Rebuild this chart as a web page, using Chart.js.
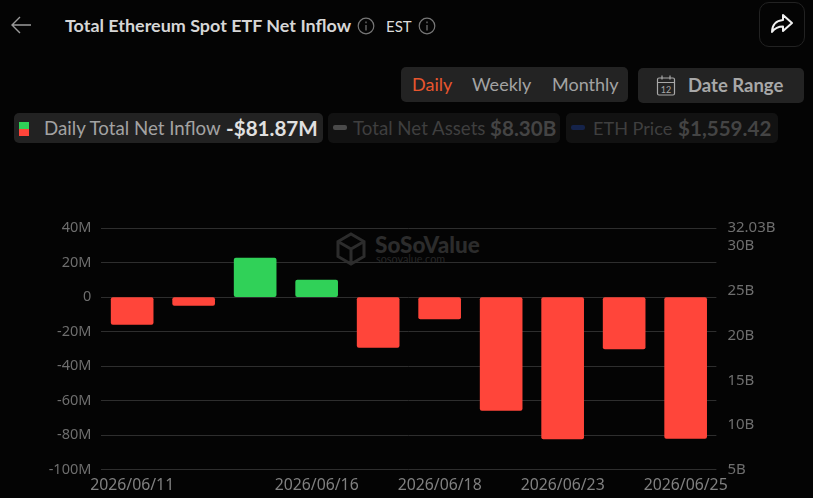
<!DOCTYPE html>
<html>
<head>
<meta charset="utf-8">
<title>Total Ethereum Spot ETF Net Inflow</title>
<script src="https://cdn.jsdelivr.net/npm/chart.js@4/dist/chart.umd.min.js"></script>
<style>
    html, body { margin: 0; padding: 0; width: 813px; height: 498px; overflow: hidden; background: #040404; font-family: Lato, sans-serif; }
    .abs { position: absolute; white-space: nowrap; }
    .box { position: absolute; border-radius: 5px; }
    .tab { font-size: 18px; line-height: 35px; top: 67px; color: #a3a3a3; }
    .chipLabel { font-size: 18.7px; line-height: 30px; top: 113px; }
    .chipValue { font-size: 20.6px; line-height: 30px; top: 113px; font-weight: 700; }
    #chartWrap { position: absolute; left: 0; top: 208px; width: 813px; height: 290px; }
</style>
</head>
<body>
<!-- header -->
<svg class="abs" style="left:10px;top:14px" width="24" height="22" fill="none" stroke="#9a9a9a" stroke-width="1.4"><path d="M21 11H2M10 3l-8 8 8 8"/></svg>
<div class="abs" style="left:65px;top:12px;font-size:17.95px;line-height:26px;font-weight:700;color:#d6d6d6">Total Ethereum Spot ETF Net Inflow</div>
<svg class="abs" style="left:357px;top:17px" width="18" height="18" fill="none" stroke="#777" stroke-width="1.2"><circle cx="9" cy="9" r="7.8"/><path d="M9 8v5.5M9 4.6v1.6"/></svg>
<div class="abs" style="left:386px;top:13px;font-size:15px;line-height:26px;color:#dcdcdc">EST</div>
<svg class="abs" style="left:418px;top:17px" width="18" height="18" fill="none" stroke="#777" stroke-width="1.2"><circle cx="9" cy="9" r="7.8"/><path d="M9 8v5.5M9 4.6v1.6"/></svg>
<div class="box" style="left:759px;top:2px;width:44px;height:43px;border:1px solid #222;border-radius:10px"></div>
<svg class="abs" style="left:770px;top:13px" width="24" height="22" fill="none" stroke="#f0f0f0" stroke-width="2" stroke-linejoin="round"><path d="M13 2l9 8-9 8v-4.500c-5 0-8 1.500-11 5.500 0-7 4-11.500 11-12z"/></svg>

<!-- period tabs and date range -->
<div class="box" style="left:401px;top:67px;width:227px;height:35px;background:#232323"></div>
<div class="abs tab" style="left:412px;color:#e8562e">Daily</div>
<div class="abs tab" style="left:472px">Weekly</div>
<div class="abs tab" style="left:552px">Monthly</div>
<div class="box" style="left:638px;top:68px;width:166px;height:35px;background:#232323"></div>
<svg class="abs" style="left:655px;top:74px" width="22" height="23" fill="none" stroke="#a8a8a8" stroke-width="1.2"><rect x="2.500" y="4" width="17" height="17" rx="1.500"/><path d="M2.500 8.500h17M7 1.500v4M15 1.500v4"/><text x="11" y="18.500" font-size="9" text-anchor="middle" fill="#a8a8a8" stroke="none" font-family="Lato">12</text></svg>
<div class="abs" style="left:688px;top:68px;font-size:18.500px;line-height:35px;font-weight:700;color:#a8a8a8">Date Range</div>

<!-- legend chips -->
<div class="box" style="left:14px;top:113px;width:309px;height:30px;background:#222"></div>
<div class="abs" style="left:19px;top:122px;width:10px;height:7px;background:#30d158"></div>
<div class="abs" style="left:19px;top:129px;width:10px;height:7px;background:#ff453a"></div>
<div class="abs chipLabel" style="left:44px;color:#a3a3a3">Daily Total Net Inflow</div>
<div class="abs chipValue" style="left:226px;color:#e0e0e0">-$81.87M</div>

<div class="box" style="left:328px;top:113px;width:232px;height:30px;background:#121212"></div>
<div class="abs" style="left:333px;top:125px;width:14px;height:5px;border-radius:2px;background:#4a4a4a"></div>
<div class="abs chipLabel" style="left:353px;color:#3f3f3f">Total Net Assets</div>
<div class="abs chipValue" style="left:490px;color:#444">$8.30B</div>

<div class="box" style="left:566px;top:113px;width:212px;height:30px;background:#121212"></div>
<div class="abs" style="left:571px;top:125px;width:14px;height:5px;border-radius:2px;background:#15234a"></div>
<div class="abs chipLabel" style="left:593px;color:#3f3f3f;font-size:18.1px">ETH Price</div>
<div class="abs chipValue" style="left:678px;color:#444">$1,559.42</div>

<!-- watermark -->
<svg class="abs" style="left:335px;top:232px" width="32" height="34" fill="none" stroke="#2c2c2c" stroke-width="3"><path d="M16 2l13 7.500v15L16 32 3 24.500v-15zM3 9.500L16 17l13-7.500M16 17v15"/></svg>
<div class="abs" style="left:375px;top:232px;font-size:22.5px;line-height:26px;font-weight:900;color:#2c2c2c">SoSoValue</div>
<div class="abs" style="left:376px;top:253px;font-size:10.8px;line-height:12px;color:#272727">sosovalue.com</div>

<div id="chartWrap"><canvas id="inflowChart"></canvas></div>

<script>
const dates = ["2026/06/11", "2026/06/12", "2026/06/15", "2026/06/16", "2026/06/17", "2026/06/18", "2026/06/22", "2026/06/23", "2026/06/24", "2026/06/25"];
const netInflow = [-15.9, -4.8, 22.6, 9.9, -29.2, -12.6, -65.7, -82.2, -30.0, -81.87];
const shownDates = ["2026/06/11", "2026/06/16", "2026/06/18", "2026/06/23", "2026/06/25"];
const assetTicks = [5, 10, 15, 20, 25, 30, 32.03];

const GREEN = "#30d158";
const RED = "#ff453a";
const TICK_COLOR = "#6e6e6e";
const DATE_COLOR = "#808080";
const GRID_COLOR = "#2e2e2e";

const ctx = document.getElementById("inflowChart").getContext("2d");
new Chart(ctx, {
    type: "bar",
    data: {
        labels: dates,
        datasets: [
            {
                label: "Daily Total Net Inflow",
                data: netInflow,
                backgroundColor: netInflow.map((v) => (v >= 0 ? GREEN : RED)),
                barThickness: 42,
                borderRadius: 2,
                borderSkipped: false,
                yAxisID: "y",
            },
        ],
    },
    options: {
        responsive: true,
        maintainAspectRatio: false,
        animation: false,
        plugins: {
            legend: { display: false },
            tooltip: { enabled: false },
        },
        scales: {
            x: {
                grid: { display: false, drawTicks: false },
                border: { display: false },
                afterFit: (scale) => { scale.height = 28.3; },
                ticks: {
                    color: DATE_COLOR,
                    font: { family: "'Noto Sans'", size: 15.8 },
                    padding: 6,
                    autoSkip: false,
                    maxRotation: 0,
                    // only some of the dates get a label
                    callback(value) {
                        const d = this.getLabelForValue(value);
                        return shownDates.includes(d) ? d : "";
                    },
                },
            },
            y: {
                position: "left",
                min: -100,
                max: 40,
                afterFit: (scale) => { scale.width = 101.4; },
                grid: { color: GRID_COLOR, drawTicks: false, lineWidth: 1 },
                border: { display: false },
                ticks: {
                    stepSize: 20,
                    color: TICK_COLOR,
                    font: { family: "'Noto Sans'", size: 14.5 },
                    padding: 10,
                    callback: (v) => (v === 0 ? "0" : `${v}M`),
                },
            },
            y1: {
                position: "right",
                min: 5,
                max: 32.03,
                afterFit: (scale) => { scale.width = 96.6; },
                afterBuildTicks: (scale) => { scale.ticks = assetTicks.map((v) => ({ value: v })); },
                grid: { display: false, drawTicks: false },
                border: { display: false },
                ticks: {
                    color: TICK_COLOR,
                    font: { family: "'Noto Sans'", size: 15 },
                    padding: 11,
                    callback: (v) => `${v}B`,
                },
            },
        },
    },
});
</script>
</body>
</html>
